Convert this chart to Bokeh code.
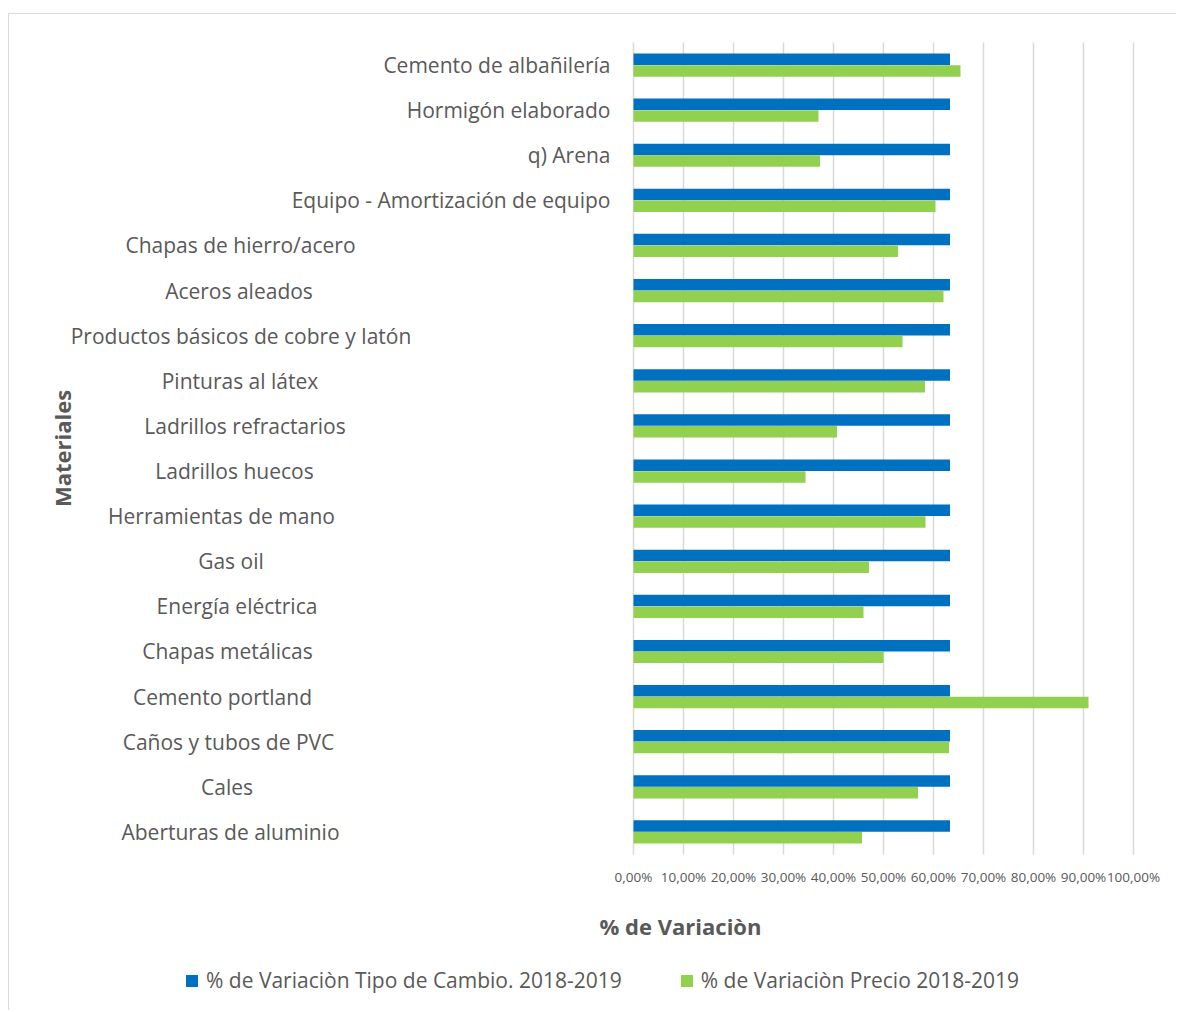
from bokeh.plotting import figure
from bokeh.models import ColumnDataSource, Legend, LegendItem, Range1d
from bokeh.core.properties import value
from bokeh.embed import file_html
from bokeh.resources import INLINE
import math

# ---- data (top to bottom as shown) ----
categories = [
    "Cemento de albañilería", "Hormigón elaborado", "q) Arena",
    "Equipo - Amortización de equipo", "Chapas de hierro/acero", "Aceros aleados",
    "Productos básicos de cobre y latón", "Pinturas al látex", "Ladrillos refractarios",
    "Ladrillos huecos", "Herramientas de mano", "Gas oil", "Energía eléctrica",
    "Chapas metálicas", "Cemento portland", "Caños y tubos de PVC", "Cales",
    "Aberturas de aluminio",
]
tipo_cambio = [63.3] * 18
precio = [65.4, 37.0, 37.3, 60.4, 52.9, 62.0, 53.8, 58.3, 40.7, 34.4, 58.4, 47.1,
          46.0, 50.0, 91.0, 63.1, 56.9, 45.7]
tick_values = [0, 10, 20, 30, 40, 50, 60, 70, 80, 90, 100]
tick_labels = ["0,00%", "10,00%", "20,00%", "30,00%", "40,00%", "50,00%", "60,00%",
               "70,00%", "80,00%", "90,00%", "100,00%"]
series_names = ["% de Variaciòn Tipo de Cambio. 2018-2019", "% de Variaciòn Precio 2018-2019"]
x_title = "% de Variaciòn"
y_title = "Materiales"

# ---- style / layout ----
BLUE = "#0070C0"
GREEN = "#92D050"
GRID = "#d9d9d9"
TXT = "#595959"
FONT = value("Open Sans")
N = len(categories)
OFF = 0.13
BAR_H = 0.255
PX_PER_UNIT = 5.0  # horizontal pixels per percentage point
# label placement (pixels left of the 0% line): first 4 right-aligned, rest centred
n_right = 4
right_gap_px = 23
centre_px = [393, 394.5, 392.5, 393.5, 388.5, 399, 412, 402.5, 396.5, 406, 411, 405,
             406.5, 403]

# band centres: first category at the top
ypos = [N - 0.5 - i for i in range(N)]
src = ColumnDataSource(dict(cat=categories, y=ypos,
                            y_tc=[y + OFF for y in ypos], y_pr=[y - OFF for y in ypos],
                            tc=tipo_cambio, pr=precio))
src_r = ColumnDataSource(dict(cat=categories[:n_right], y=ypos[:n_right],
                              x=[-right_gap_px / PX_PER_UNIT] * n_right))
src_c = ColumnDataSource(dict(cat=categories[n_right:], y=ypos[n_right:],
                              x=[-c / PX_PER_UNIT for c in centre_px]))

p = figure(width=1168, height=997, output_backend="svg", toolbar_location=None,
           x_range=Range1d(-124.8, 108.8), y_range=Range1d(-3.48, 18.62),
           min_border_left=0, min_border_right=0, min_border_top=0, min_border_bottom=0)
p.margin = (13, 0, 0, 8)
p.styles = {"border-top": "1px solid #d9d9d9", "border-left": "1px solid #d9d9d9"}
p.outline_line_color = None
p.background_fill_color = "white"
p.border_fill_color = "white"
p.xaxis.visible = False
p.yaxis.visible = False
p.grid.visible = False

# vertical gridlines at the tick values, spanning the category bands
p.segment(x0=tick_values, x1=tick_values, y0=[0] * len(tick_values),
          y1=[N] * len(tick_values), line_color=GRID, line_width=1.5)

r1 = p.hbar(y="y_tc", right="tc", left=0, height=BAR_H, source=src,
            fill_color=BLUE, line_color=None)
r2 = p.hbar(y="y_pr", right="pr", left=0, height=BAR_H, source=src,
            fill_color=GREEN, line_color=None)

# category labels
p.text(x="x", y="y", text="cat", source=src_r, text_align="right",
       text_baseline="middle", text_font=FONT, text_font_size="21px", text_color=TXT)
p.text(x="x", y="y", text="cat", source=src_c, text_align="center",
       text_baseline="middle", text_font=FONT, text_font_size="21px", text_color=TXT)

# tick labels
p.text(x=tick_values, y=[-0.488] * len(tick_values), text=tick_labels,
       text_align="center", text_baseline="middle", text_font=FONT,
       text_font_size="13.5px", text_color=TXT)

# axis titles
p.text(x=[9.4], y=[-1.58], text=[x_title], text_align="center", text_baseline="middle",
       text_font=FONT, text_font_style="bold", text_font_size="22px", text_color=TXT)
p.text(x=[-114.4], y=[9.0], text=[y_title], angle=math.pi / 2, text_align="center",
       text_baseline="middle", text_font=FONT, text_font_style="bold",
       text_font_size="22px", text_color=TXT)

legend = Legend(items=[LegendItem(label=series_names[0], renderers=[r1]),
                       LegendItem(label=series_names[1], renderers=[r2])],
                location=(175, 17), orientation="horizontal")
legend.glyph_width = 15
legend.glyph_height = 15
legend.label_standoff = 7
legend.spacing = 57
legend.padding = 0
legend.margin = 0
legend.border_line_color = None
legend.background_fill_alpha = 0
legend.label_text_font = "Open Sans"
legend.label_text_font_size = "21px"
legend.label_text_color = TXT
p.add_layout(legend, "center")

open("out.html", "w").write(file_html(p, INLINE))
